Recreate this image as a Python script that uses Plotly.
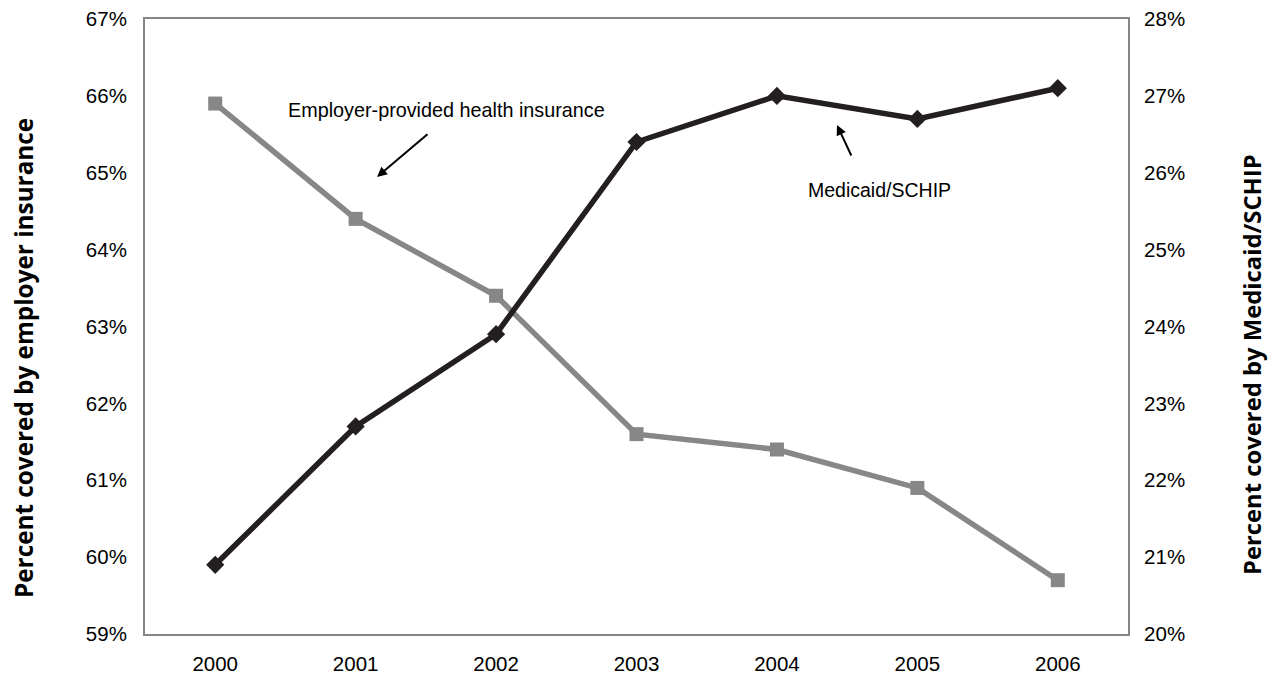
import plotly.graph_objects as go

years = ["2000", "2001", "2002", "2003", "2004", "2005", "2006"]
employer = [65.9, 64.4, 63.4, 61.6, 61.4, 60.9, 59.7]
medicaid = [20.9, 22.7, 23.9, 26.4, 27.0, 26.7, 27.1]
left_ticks = [59, 60, 61, 62, 63, 64, 65, 66, 67]
right_ticks = [20, 21, 22, 23, 24, 25, 26, 27, 28]

W, H = 1269, 677
L, R, T, B = 145, 141, 19, 43
pw, ph = W - L - R, H - T - B

def px(x):
    return (x - L) / pw

def py(y):
    return (H - B - y) / ph

FONT = "Arial, Liberation Sans, sans-serif"
TITLE_FONT = "Open Sans, sans-serif"
BORDER = "#868686"
TICK_SIZE = 20.5

fig = go.Figure()
fig.add_trace(go.Scatter(
    x=years, y=employer, mode="lines+markers", name="Employer",
    line=dict(color="#878787", width=5.5),
    marker=dict(symbol="square", size=14, color="#878787"),
    yaxis="y"))
fig.add_trace(go.Scatter(
    x=years, y=medicaid, mode="lines+markers", name="Medicaid/SCHIP",
    line=dict(color="#231f20", width=5.5),
    marker=dict(symbol="diamond", size=14, color="#231f20"),
    yaxis="y2"))

fig.update_layout(
    width=W, height=H,
    margin=dict(l=L, r=R, t=T, b=B, pad=0, autoexpand=False),
    paper_bgcolor="white", plot_bgcolor="white",
    showlegend=False,
    font=dict(family=FONT, size=TICK_SIZE, color="black"),
    xaxis=dict(
        type="category", range=[-0.5, 6.5], automargin=False,
        showgrid=False, zeroline=False,
        showline=True, linecolor=BORDER, linewidth=2, mirror=True,
        ticks="", ticklabelstandoff=10,
        tickfont=dict(family=FONT, size=TICK_SIZE, color="black"),
    ),
    yaxis=dict(
        range=[59, 67], tickvals=left_ticks, automargin=False,
        ticktext=[f"{v}%" for v in left_ticks],
        showgrid=False, zeroline=False,
        showline=True, linecolor=BORDER, linewidth=2, mirror=True,
        ticks="", ticklabelstandoff=12,
        tickfont=dict(family=FONT, size=TICK_SIZE, color="black"),
    ),
    yaxis2=dict(
        range=[20, 28], tickvals=right_ticks, automargin=False,
        ticktext=[f"{v}%" for v in right_ticks],
        overlaying="y", side="right",
        showgrid=False, zeroline=False,
        showline=True, linecolor=BORDER, linewidth=2,
        ticks="", ticklabelstandoff=10,
        tickfont=dict(family=FONT, size=TICK_SIZE, color="black"),
    ),
)

def label(text, x, y, size, family=FONT, angle=0):
    return dict(text=text, x=px(x), y=py(y), xref="paper", yref="paper",
                xanchor="center", yanchor="middle", showarrow=False,
                textangle=angle, font=dict(family=family, size=size, color="black"))

annotations = [
    label("Employer-provided health insurance", 446, 110, 19.8),
    label("Medicaid/SCHIP", 879, 190, 19.5),
    dict(text="", x=px(377), y=py(177), xref="paper", yref="paper",
         showarrow=True, ax=52, ay=-44, arrowhead=2, arrowsize=1,
         arrowwidth=2, arrowcolor="black"),
    dict(text="", x=px(837), y=py(125), xref="paper", yref="paper",
         showarrow=True, ax=15, ay=32, arrowhead=2, arrowsize=1,
         arrowwidth=2, arrowcolor="black"),
    label("<b>Percent covered by employer insurance</b>", 23, 358, 24.3, TITLE_FONT, -90),
    label("<b>Percent covered by Medicaid/SCHIP</b>", 1252, 365, 23.8, TITLE_FONT, -90),
]
fig.update_layout(annotations=annotations)

fig.write_html("out.html")
